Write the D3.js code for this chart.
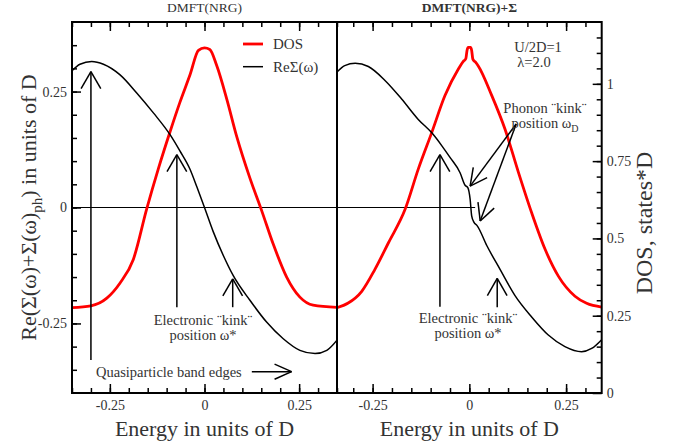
<!DOCTYPE html>
<html>
<head>
<meta charset="utf-8">
<script src="https://cdn.jsdelivr.net/npm/d3@7"></script>
<style>
  body { margin: 0; background: #fff; }
  text { font-family: "Liberation Serif", "Times New Roman", serif; }
</style>
</head>
<body>
<svg id="chart" width="674" height="444"></svg>
<script>
// ---- DMFT(NRG): density of states and real part of the self-energy ----
const energyDosL = [-0.35, -0.3, -0.258, -0.223, -0.188, -0.153, -0.122, -0.091, -0.065, -0.038, -0.016, 0, 0.014, 0.032, 0.059, 0.085, 0.12, 0.151, 0.182, 0.217, 0.252, 0.287, 0.35];
const dosL       = [0.276, 0.282, 0.307, 0.356, 0.432, 0.594, 0.725, 0.845, 0.94, 1.03, 1.108, 1.116, 1.111, 1.06, 0.95, 0.83, 0.695, 0.59, 0.48, 0.375, 0.31, 0.284, 0.277];

const energySigL = [-0.35, -0.329, -0.298, -0.267, -0.223, -0.179, -0.135, -0.091, -0.065, -0.038, -0.02, 0, 0.023, 0.05, 0.076, 0.12, 0.164, 0.208, 0.252, 0.292, 0.323, 0.35];
const sigmaL     = [0.295, 0.309, 0.315, 0.309, 0.286, 0.247, 0.204, 0.157, 0.122, 0.082, 0.044, 0, -0.052, -0.104, -0.147, -0.2, -0.247, -0.283, -0.308, -0.315, -0.308, -0.286];

// ---- DMFT(NRG)+Σ: with the phonon self-energy added ----
const energyDosR = [-0.342, -0.313, -0.278, -0.244, -0.209, -0.166, -0.132, -0.097, -0.063, -0.028, -0.016, -0.009, -0.006, -0.003, 0.003, 0.006, 0.009, 0.016, 0.023, 0.058, 0.092, 0.127, 0.161, 0.196, 0.23, 0.273, 0.303, 0.342];
const dosR       = [0.276, 0.291, 0.329, 0.40, 0.486, 0.594, 0.724, 0.843, 0.962, 1.049, 1.072, 1.082, 1.108, 1.118, 1.118, 1.108, 1.08, 1.07, 1.058, 0.962, 0.854, 0.713, 0.583, 0.464, 0.378, 0.313, 0.29, 0.278];

const energySigR = [-0.342, -0.322, -0.295, -0.261, -0.218, -0.175, -0.132, -0.097, -0.071, -0.05, -0.024, -0.011, -0.004, 0.002, 0.006, 0.012, 0.02, 0.045, 0.079, 0.118, 0.161, 0.204, 0.247, 0.29, 0.316, 0.342];
const sigmaR     = [0.292, 0.306, 0.311, 0.304, 0.274, 0.234, 0.19, 0.161, 0.133, 0.108, 0.075, 0.048, 0.043, 0.018, -0.018, -0.032, -0.039, -0.082, -0.133, -0.19, -0.236, -0.275, -0.30, -0.311, -0.304, -0.285];

// ---- tick labels ----
const energyTicks = [-0.25, 0, 0.25];
const sigmaTicks  = [-0.25, 0, 0.25];
const dosTicks    = [0, 0.25, 0.5, 0.75, 1];

const svg = d3.select("#chart");
const TOP = 22, BOTTOM = 393;
const TEXT = "#333";
const fmt = d => String(d);

const ySig = d3.scaleLinear().domain([-0.4, 0.4]).range([BOTTOM, TOP]);
const yDos = d3.scaleLinear().domain([0, 1.2]).range([BOTTOM, TOP]);

const xL = d3.scaleLinear().domain([-0.35, 0.35]).range([72, 337]);
const xR = d3.scaleLinear().domain([-0.342, 0.342]).range([337, 601.7]);

const defs = svg.append("defs");
[["clipL", xL], ["clipR", xR]].forEach(([id, x]) => {
  defs.append("clipPath").attr("id", id).append("rect")
    .attr("x", x.range()[0]).attr("y", TOP)
    .attr("width", x.range()[1] - x.range()[0]).attr("height", BOTTOM - TOP);
});

function series(xs, ys) { return xs.map((e, i) => [e, ys[i]]); }

function drawCurve(g, x, y, data, color, width) {
  const line = d3.line().x(d => x(d[0])).y(d => y(d[1])).curve(d3.curveMonotoneX);
  g.append("path").datum(data)
    .attr("d", line).attr("fill", "none")
    .attr("stroke", color).attr("stroke-width", width)
    .attr("stroke-linejoin", "round");
}

function styleAxis(sel) {
  sel.select(".domain").remove();
  sel.selectAll("line").attr("stroke", "#000").attr("stroke-width", 1.5);
  sel.selectAll("text").attr("fill", TEXT)
    .style("font-family", '"Liberation Serif", "Times New Roman", serif')
    .style("font-size", "14px");
}

function minorValues(x, step) {
  const [a, b] = x.domain();
  const out = [];
  for (let i = Math.ceil(a / step - 1e-9); i * step <= b + 1e-9; i++) out.push(+(i * step).toFixed(4));
  return out;
}

function energyAxes(x) {
  const minor = minorValues(x, 0.05);
  svg.append("g").attr("transform", `translate(0,${BOTTOM})`)
    .call(d3.axisBottom(x).tickValues(minor).tickSize(-5).tickFormat("")).call(styleAxis);
  svg.append("g").attr("transform", `translate(0,${BOTTOM})`)
    .call(d3.axisBottom(x).tickValues(energyTicks).tickSizeInner(-9).tickSizeOuter(0).tickPadding(7).tickFormat(fmt))
    .call(styleAxis);
  svg.append("g").attr("transform", `translate(0,${TOP})`)
    .call(d3.axisTop(x).tickValues(minor).tickSize(-5).tickFormat("")).call(styleAxis);
  svg.append("g").attr("transform", `translate(0,${TOP})`)
    .call(d3.axisTop(x).tickValues(energyTicks).tickSize(-9).tickFormat("")).call(styleAxis);
  svg.append("text")
    .attr("x", (x.range()[0] + x.range()[1]) / 2).attr("y", 436)
    .attr("text-anchor", "middle").attr("fill", TEXT)
    .style("font-size", "22px").text("Energy in units of D");
}

function arrow(g, x1, y1, x2, y2, head = 19, angDeg = 28) {
  g.append("line").attr("x1", x1).attr("y1", y1).attr("x2", x2).attr("y2", y2);
  const back = Math.atan2(y1 - y2, x1 - x2);
  const a = angDeg * Math.PI / 180;
  [back + a, back - a].forEach(t => {
    g.append("line").attr("x1", x2).attr("y1", y2)
      .attr("x2", x2 + head * Math.cos(t)).attr("y2", y2 + head * Math.sin(t));
  });
}

function note(g, x, y, lines) {
  const t = g.append("text").attr("text-anchor", "middle").attr("fill", TEXT).style("font-size", "14.5px");
  lines.forEach((parts, i) => {
    const row = t.append("tspan").attr("x", x).attr("y", y + i * 15);
    parts.forEach(p => {
      if (typeof p === "string") row.append("tspan").text(p);
      else row.append("tspan").attr("dy", 4).style("font-size", "10px").text(p.sub);
    });
  });
}

// ================= left panel =================
const gL = svg.append("g");
gL.append("line").attr("x1", xL.range()[0]).attr("x2", xL.range()[1])
  .attr("y1", ySig(0)).attr("y2", ySig(0)).attr("stroke", "#000").attr("stroke-width", 1);
const curvesL = gL.append("g").attr("clip-path", "url(#clipL)");
drawCurve(curvesL, xL, yDos, series(energyDosL, dosL), "#ff0000", 2.8);
drawCurve(curvesL, xL, ySig, series(energySigL, sigmaL), "#000", 1.5);

// ================= right panel =================
const gR = svg.append("g");
gR.append("line").attr("x1", xR(-0.342)).attr("x2", xR(0.015))
  .attr("y1", ySig(0)).attr("y2", ySig(0)).attr("stroke", "#000").attr("stroke-width", 1);
const curvesR = gR.append("g").attr("clip-path", "url(#clipR)");
drawCurve(curvesR, xR, yDos, series(energyDosR, dosR), "#ff0000", 2.8);
drawCurve(curvesR, xR, ySig, series(energySigR, sigmaR), "#000", 1.5);

// frames
[xL, xR].forEach(x => {
  svg.append("rect").attr("x", x.range()[0]).attr("y", TOP)
    .attr("width", x.range()[1] - x.range()[0]).attr("height", BOTTOM - TOP)
    .attr("fill", "none").attr("stroke", "#000").attr("stroke-width", 2);
});

// energy axes
energyAxes(xL);
energyAxes(xR);

// left self-energy axis
svg.append("g").attr("transform", `translate(${xL.range()[0]},0)`)
  .call(d3.axisLeft(ySig).tickValues(minorValues(ySig, 0.05).filter(v => Math.abs(v) < 0.39)).tickSize(-5).tickFormat(""))
  .call(styleAxis);
svg.append("g").attr("transform", `translate(${xL.range()[0]},0)`)
  .call(d3.axisLeft(ySig).tickValues(sigmaTicks).tickSizeInner(-9).tickSizeOuter(0).tickPadding(5).tickFormat(fmt))
  .call(styleAxis);

// right DOS axis
svg.append("g").attr("transform", `translate(${xR.range()[1]},0)`)
  .call(d3.axisRight(yDos).tickValues(minorValues(yDos, 0.05).filter(v => v > 0.01 && v < 1.19)).tickSize(-5).tickFormat(""))
  .call(styleAxis);
svg.append("g").attr("transform", `translate(${xR.range()[1]},0)`)
  .call(d3.axisRight(yDos).tickValues(dosTicks).tickSizeInner(-9).tickSizeOuter(0).tickPadding(5).tickFormat(fmt))
  .call(styleAxis);

// axis titles
const yTitle = svg.append("text")
  .attr("transform", `translate(36,${(TOP + BOTTOM) / 2}) rotate(-90)`)
  .attr("text-anchor", "middle").attr("fill", TEXT).style("font-size", "22px");
yTitle.append("tspan").text("Re(Σ(ω)+Σ(ω)");
yTitle.append("tspan").attr("dy", 6).style("font-size", "15px").text("ph");
yTitle.append("tspan").attr("dy", -6).text(") in units of D");

svg.append("text")
  .attr("transform", `translate(652,223) rotate(-90)`)
  .attr("text-anchor", "middle").attr("fill", TEXT).style("font-size", "24px")
  .text("DOS, states*D");

// panel titles
svg.append("text").attr("x", (xL.range()[0] + xL.range()[1]) / 2).attr("y", 12)
  .attr("text-anchor", "middle").attr("fill", TEXT).style("font-size", "13.5px").text("DMFT(NRG)");
svg.append("text").attr("x", (xR.range()[0] + xR.range()[1]) / 2).attr("y", 12)
  .attr("text-anchor", "middle").attr("fill", TEXT).style("font-size", "13.5px")
  .style("font-weight", "bold").text("DMFT(NRG)+Σ");

// legend
const legend = svg.append("g");
[["DOS", "#ff0000", 2.8, 44], ["ReΣ(ω)", "#000", 1.5, 66.7]].forEach(([label, color, w, y]) => {
  legend.append("line").attr("x1", 243).attr("x2", 263).attr("y1", y).attr("y2", y)
    .attr("stroke", color).attr("stroke-width", w);
  legend.append("text").attr("x", 273).attr("y", y + 5).attr("fill", TEXT)
    .style("font-size", "15px").text(label);
});

// parameters
note(svg, 538, 52, [["U/2D=1"]]);
note(svg, 534, 67, [["λ=2.0"]]);

// annotations, left panel
const aL = svg.append("g").attr("stroke", "#000").attr("stroke-width", 1.5);
arrow(aL, xL(-0.3), ySig(-0.329), xL(-0.3), ySig(0.293), 19.7, 30);
arrow(aL, xL(-0.073), ySig(-0.215), xL(-0.073), ySig(0.114), 19.7, 30);
arrow(aL, xL(0.0745), ySig(-0.215), xL(0.0745), ySig(-0.154), 19.7, 30);
arrow(aL, xL(0.125), ySig(-0.354), xL(0.23), ySig(-0.354), 18.6, 24);
note(svg, 203, 325, [["Electronic ¨kink¨"], ["position ω*"]]);
svg.append("text").attr("x", 96).attr("y", 377).attr("fill", TEXT)
  .style("font-size", "14.5px").text("Quasiparticle band edges");

// annotations, right panel
const aR = svg.append("g").attr("stroke", "#000").attr("stroke-width", 1.5);
arrow(aR, xR(-0.076), ySig(-0.214), xR(-0.076), ySig(0.114), 19.7, 30);
arrow(aR, xR(0.072), ySig(-0.215), xR(0.072), ySig(-0.153), 19.7, 30);
arrow(aR, xR(0.121), ySig(0.18), xR(0.002), ySig(0.046), 19, 27);
arrow(aR, xR(0.121), ySig(0.18), xR(0.028), ySig(-0.029), 19, 27);
note(svg, 468, 323, [["Electronic ¨kink¨"], ["position ω*"]]);
note(svg, 545, 113, [["Phonon ¨kink¨"], ["position ω", { sub: "D" }]]);
</script>
</body>
</html>
